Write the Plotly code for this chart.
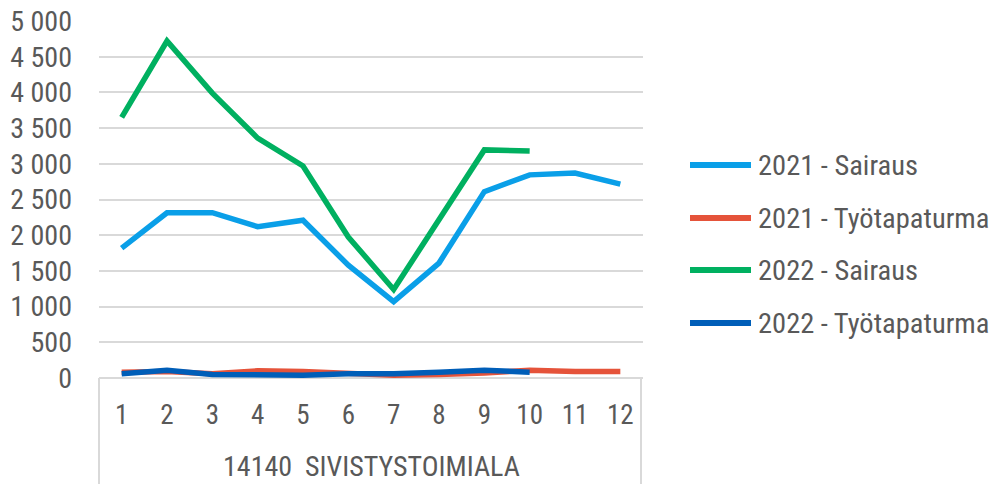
import plotly.graph_objects as go

months = ["1", "2", "3", "4", "5", "6", "7", "8", "9", "10", "11", "12"]
group_label = "14140  SIVISTYSTOIMIALA"

sairaus_2021 = [1820, 2315, 2315, 2120, 2210, 1580, 1070, 1610, 2610, 2845, 2870, 2715]
tyotapaturma_2021 = [80, 90, 60, 100, 90, 60, 40, 50, 70, 110, 90, 90]
sairaus_2022 = [3650, 4720, 3990, 3360, 2970, 1975, 1240, 2210, 3195, 3180]
tyotapaturma_2022 = [60, 110, 50, 40, 40, 60, 60, 80, 110, 80]

series_names = ["2021 - Sairaus", "2021 - Työtapaturma", "2022 - Sairaus", "2022 - Työtapaturma"]
series_values = [sairaus_2021, tyotapaturma_2021, sairaus_2022, tyotapaturma_2022]
series_colors = ["#0A9FE8", "#E5533A", "#00B060", "#005EB8"]

y_ticks = list(range(0, 5001, 500))

FONT = "Liberation Sans Narrow, Arial Narrow, Roboto Condensed, sans-serif"
TXT = "#595959"
W, H = 1000, 484
L, R, T, B = 99, 643, 21, 378

def px(x):
    return (x - L) / (R - L)

def py(y):
    return (B - y) / (B - T)

fig = go.Figure()
for name, vals, col in zip(series_names, series_values, series_colors):
    fig.add_trace(go.Scatter(
        x=months[:len(vals)], y=vals, name=name, mode="lines",
        line=dict(color=col, width=5.5), showlegend=False,
    ))

shapes = []
annotations = []
# group box dividers
for xx in (L, R - 2):
    shapes.append(dict(type="line", xref="paper", yref="paper",
                       x0=px(xx), x1=px(xx), y0=py(B), y1=py(H + 2),
                       line=dict(color="#D9D9D9", width=2)))
annotations.append(dict(text=group_label, xref="paper", yref="paper",
                        x=px((L + R) / 2), y=py(466), xanchor="center", yanchor="middle",
                        showarrow=False, font=dict(family=FONT, size=28, color=TXT)))

# manual legend
leg_y = [165, 218, 270, 323]
for name, col, yy in zip(series_names, series_colors, leg_y):
    shapes.append(dict(type="line", xref="paper", yref="paper",
                       x0=px(690), x1=px(751), y0=py(yy), y1=py(yy),
                       line=dict(color=col, width=6)))
    annotations.append(dict(text=name, xref="paper", yref="paper",
                            x=px(756), y=py(yy), xanchor="left", yanchor="middle",
                            showarrow=False, font=dict(family=FONT, size=28.5, color=TXT)))

fig.update_layout(
    width=W, height=H,
    margin=dict(l=L, r=W - R, t=T, b=H - B, autoexpand=False),
    paper_bgcolor="white", plot_bgcolor="white",
    separators=", ",
    font=dict(family=FONT, color=TXT),
    showlegend=False,
    shapes=shapes, annotations=annotations,
    xaxis=dict(type="category", categoryorder="array", categoryarray=months,
               range=[-0.5, 11.5], showgrid=False, zeroline=False, automargin=False,
               showline=False, ticks="", ticklabelstandoff=18,
               tickfont=dict(family=FONT, size=27, color=TXT)),
    yaxis=dict(range=[0, 5000], tickvals=y_ticks, tickformat=",d", automargin=False,
               showgrid=True, gridcolor="#D9D9D9", gridwidth=2,
               zeroline=True, zerolinecolor="#D9D9D9", zerolinewidth=2,
               showline=False, ticks="", ticklabelstandoff=26,
               tickfont=dict(family=FONT, size=28, color=TXT)),
)

fig.write_html("out.html", config={"displayModeBar": False},
               post_script="document.body.style.margin='0';document.body.style.overflow='hidden';")
